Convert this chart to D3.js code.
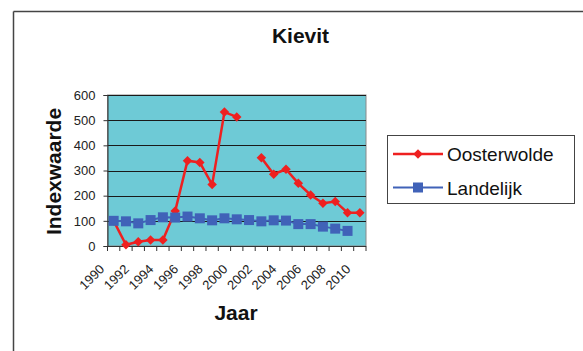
<!DOCTYPE html>
<html>
<head>
<meta charset="utf-8">
<script src="https://cdn.jsdelivr.net/npm/d3@7"></script>
<style>
  html, body { margin: 0; padding: 0; background: #fff; }
  svg { display: block; font-family: "Liberation Sans", Arial, sans-serif; }
</style>
</head>
<body>
<svg id="chart" width="583" height="351"></svg>
<script>
// Kievit breeding-bird index, Oosterwolde vs. national (Landelijk)
const years = d3.range(1990, 2011);
const yearLabels = ["1990", "1992", "1994", "1996", "1998", "2000", "2002", "2004", "2006", "2008", "2010"];
const oosterwolde = [100, 5, 17, 24, 24, 139, 339, 332, 244, 532, 513, null, 351, 285, 305, 249, 203, 170, 177, 132, 132];
const landelijk = [100, 98, 90, 103, 114, 113, 117, 110, 102, 110, 106, 103, 98, 102, 101, 87, 87, 77, 69, 60, null];
const yTicks = [0, 100, 200, 300, 400, 500, 600];
const seriesNames = ["Oosterwolde", "Landelijk"];

const svg = d3.select("#chart");

const plot = { left: 107.5, right: 366, top: 95, bottom: 246 };
const red = "#ee2020";
const blue = "#4062b8";
const font = "Liberation Sans, Arial, sans-serif";

// Outer chart frame (top and left edges visible)
svg.append("line").attr("x1", 13.5).attr("x2", 583).attr("y1", 11.5).attr("y2", 11.5)
  .attr("stroke", "#444").attr("stroke-width", 1.5);
svg.append("line").attr("x1", 13.5).attr("x2", 13.5).attr("y1", 11.5).attr("y2", 351)
  .attr("stroke", "#444").attr("stroke-width", 1.5);

const x = d3.scaleBand().domain(years).range([plot.left, plot.right]);
const y = d3.scaleLinear().domain([0, 600]).range([plot.bottom, plot.top]);

// Plot area
svg.append("rect")
  .attr("x", plot.left).attr("y", plot.top)
  .attr("width", plot.right - plot.left).attr("height", plot.bottom - plot.top)
  .attr("fill", "#6ecad6").attr("stroke", "#8a8a8a").attr("stroke-width", 1);

// Horizontal gridlines
svg.append("g").selectAll("line").data(yTicks.filter(d => d > 0)).join("line")
  .attr("x1", plot.left).attr("x2", plot.right)
  .attr("y1", d => Math.round(y(d)) + 0.5).attr("y2", d => Math.round(y(d)) + 0.5)
  .attr("stroke", "#1a1a1a").attr("stroke-width", 1);

// Y axis
const yAxis = svg.append("g")
  .attr("transform", `translate(${plot.left},0)`)
  .call(d3.axisLeft(y).tickValues(yTicks).tickSize(4).tickPadding(8));
yAxis.select(".domain").attr("stroke", "#333");
yAxis.selectAll(".tick line").attr("stroke", "#333");
yAxis.selectAll("text").attr("font-size", 13).attr("fill", "#222")
  .attr("font-family", font);

// X axis: ticks between categories, labels on every other year
const xAxis = svg.append("g").attr("transform", `translate(0,${plot.bottom})`);
xAxis.append("line").attr("x1", plot.left).attr("x2", plot.right)
  .attr("y1", 0.5).attr("y2", 0.5).attr("stroke", "#333");
const boundaries = years.map(d => x(d)).concat([x(years[years.length - 1]) + x.bandwidth()]);
xAxis.selectAll(".xt").data(boundaries).join("line").attr("class", "xt")
  .attr("x1", d => d).attr("x2", d => d).attr("y1", 0).attr("y2", 5)
  .attr("stroke", "#333");
xAxis.selectAll(".xl").data(yearLabels).join("text").attr("class", "xl")
  .attr("transform", d => `translate(${x(+d) + x.bandwidth() / 2 - 8.5},${24}) rotate(-45)`)
  .attr("text-anchor", "end")
  .attr("font-size", 13).attr("fill", "#222")
  .text(d => d);

// Series: Oosterwolde first, Landelijk drawn on top
const cx = d => x(d) + x.bandwidth() / 2;
const seriesLine = d3.line()
  .defined(d => d[1] != null)
  .x(d => cx(d[0])).y(d => y(d[1]));

const landData = years.map((yr, i) => [yr, landelijk[i]]);
const oostData = years.map((yr, i) => [yr, oosterwolde[i]]);

svg.append("path").datum(oostData).attr("d", seriesLine)
  .attr("fill", "none").attr("stroke", red).attr("stroke-width", 2.5);
svg.append("g").selectAll("path").data(oostData.filter(d => d[1] != null)).join("path")
  .attr("transform", d => `translate(${cx(d[0])},${y(d[1])}) rotate(45)`)
  .attr("d", d3.symbol().type(d3.symbolSquare).size(45))
  .attr("fill", red);

svg.append("path").datum(landData).attr("d", seriesLine)
  .attr("fill", "none").attr("stroke", blue).attr("stroke-width", 2);
svg.append("g").selectAll("rect").data(landData.filter(d => d[1] != null)).join("rect")
  .attr("x", d => cx(d[0]) - 5).attr("y", d => y(d[1]) - 5)
  .attr("width", 10).attr("height", 10).attr("fill", blue);

// Titles
svg.append("text").attr("x", 300.5).attr("y", 43).attr("text-anchor", "middle")
  .attr("font-size", 21).attr("font-weight", "bold").attr("fill", "#111").text("Kievit");
svg.append("text").attr("x", 236).attr("y", 320).attr("text-anchor", "middle")
  .attr("font-size", 21).attr("font-weight", "bold").attr("fill", "#111").text("Jaar");
svg.append("text").attr("transform", "translate(61,171.5) rotate(-90)").attr("text-anchor", "middle")
  .attr("font-size", 21).attr("font-weight", "bold").attr("fill", "#111").text("Indexwaarde");

// Legend
const legend = svg.append("g");
legend.append("rect").attr("x", 387.5).attr("y", 135.5).attr("width", 187).attr("height", 68)
  .attr("fill", "#fff").attr("stroke", "#444").attr("stroke-width", 1);
const rows = [
  { name: seriesNames[0], color: red, y: 154, shape: "diamond" },
  { name: seriesNames[1], color: blue, y: 187.5, shape: "square" }
];
rows.forEach(r => {
  legend.append("line").attr("x1", 393).attr("x2", 443).attr("y1", r.y).attr("y2", r.y)
    .attr("stroke", r.color).attr("stroke-width", r.shape === "diamond" ? 2.5 : 2);
  if (r.shape === "diamond") {
    legend.append("path").attr("transform", `translate(418,${r.y}) rotate(45)`)
      .attr("d", d3.symbol().type(d3.symbolSquare).size(45)).attr("fill", r.color);
  } else {
    legend.append("rect").attr("x", 413).attr("y", r.y - 5).attr("width", 10).attr("height", 10)
      .attr("fill", r.color);
  }
  legend.append("text").attr("x", 447).attr("y", r.y + 7)
    .attr("font-size", 19).attr("fill", "#111").text(r.name);
});
</script>
</body>
</html>
